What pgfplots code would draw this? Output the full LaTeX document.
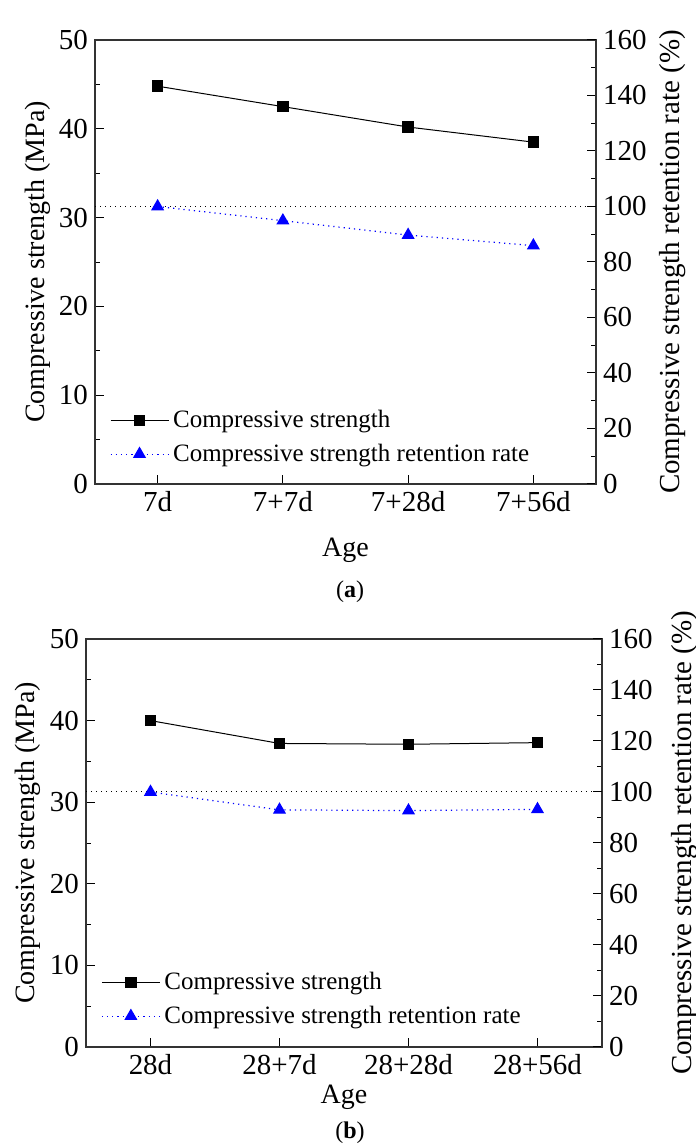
\documentclass[border=0pt]{standalone}
\usepackage{fontspec}
\setmainfont{Liberation Serif}
\usepackage{pgfplots}
\usepackage{pgfplotstable}
\pgfplotsset{compat=1.18}

\pgfplotstableread{
x s r
0 44.8 100
1 42.5 94.9
2 40.2 89.7
3 38.5 85.9
}\dataA
\pgfplotstableread{
x s r
0 40.0 100
1 37.2 93.0
2 37.1 92.7
3 37.3 93.2
}\dataB

\pgfplotsset{
  base/.style={
    scale only axis,
    xmin=-0.5, xmax=3.5, xtick={0,1,2,3},
    tick align=inside,
    axis line style={line width=0.6pt, black!80},
    every tick/.style={black, line width=0.5pt},
    major tick length=4.3pt, minor tick length=2.5pt,
    tick label style={font=\fontsize{14.5}{16}\selectfont},
    label style={font=\fontsize{14}{16}\selectfont},
    /pgf/number format/assume math mode=true,
  },
  leftax/.style={base,
    ymin=0, ymax=50, ytick={0,10,...,50}, minor ytick={5,15,...,45},
    xtick pos=bottom, ytick pos=left,
    ylabel={Compressive strength (MPa)},
    xlabel={Age},
    legend cell align=left,
    legend image code/.code={\draw[mark repeat=2,mark phase=2] plot coordinates {(0pt,0pt) (14.5pt,0pt) (29pt,0pt)};},
    legend style={draw=none, fill=none, anchor=south west,
      font=\fontsize{12.5}{14}\selectfont, row sep=2.5pt, inner sep=1pt},
  },
  rightax/.style={base,
    axis y line*=right, axis x line=none,
    ymin=0, ymax=160, ytick={0,20,...,160}, minor ytick={10,30,...,150},
    ylabel={Compressive strength retention rate (\%)},
    ylabel style={font=\fontsize{14.5}{16}\selectfont},
  },
  sline/.style={black, line width=0.5pt, mark=square*, mark size=2.6pt},
  rline/.style={blue, dotted, line width=0.6pt, mark=triangle*, mark size=3.2pt, mark options={solid}},
}

\begin{document}
\begin{tikzpicture}
\path[use as bounding box] (0,0) rectangle (348pt,574pt);

% ---------- panel (a) ----------
\begin{axis}[leftax, at={(47.5pt,332pt)}, anchor=south west,
  width=250.5pt, height=222pt,
  xticklabels={7d,7+7d,7+28d,7+56d},
  ylabel style={at={(axis description cs:-0.114,0.5)}, anchor=center},
  xlabel style={at={(axis description cs:0.5,-0.149)}, anchor=center},
  legend style={at={(0.025,0.03)}}]
\addplot[sline] table[x=x,y=s]{\dataA};
\addlegendentry{Compressive strength}
\addlegendimage{rline}
\addlegendentry{Compressive strength retention rate}
\end{axis}
\begin{axis}[rightax, at={(47.5pt,332pt)}, anchor=south west,
  width=250.5pt, height=222pt,
  ylabel style={at={(axis description cs:1.152,0.5)}, anchor=center}]
\addplot[black, dotted, line width=0.5pt, forget plot] coordinates {(-0.5,100) (3.5,100)};
\addplot[rline] table[x=x,y=r]{\dataA};
\end{axis}
\node[font=\fontsize{12}{14}\selectfont] at (175pt,278pt) {(\textbf{a})};

% ---------- panel (b) ----------
\begin{axis}[leftax, at={(43pt,50.5pt)}, anchor=south west,
  width=258pt, height=204pt,
  xticklabels={28d,28+7d,28+28d,28+56d},
  ylabel style={at={(axis description cs:-0.112,0.5)}, anchor=center},
  xlabel style={at={(axis description cs:0.5,-0.1225)}, anchor=center},
  legend style={at={(0.025,0.035)}}]
\addplot[sline] table[x=x,y=s]{\dataB};
\addlegendentry{Compressive strength}
\addlegendimage{rline}
\addlegendentry{Compressive strength retention rate}
\end{axis}
\begin{axis}[rightax, at={(43pt,50.5pt)}, anchor=south west,
  width=258pt, height=204pt,
  ylabel style={at={(axis description cs:1.161,0.5)}, anchor=center}]
\addplot[black, dotted, line width=0.5pt, forget plot] coordinates {(-0.5,100) (3.5,100)};
\addplot[rline] table[x=x,y=r]{\dataB};
\end{axis}
\node[font=\fontsize{12}{14}\selectfont] at (175pt,7.5pt) {(\textbf{b})};
\end{tikzpicture}
\end{document}
